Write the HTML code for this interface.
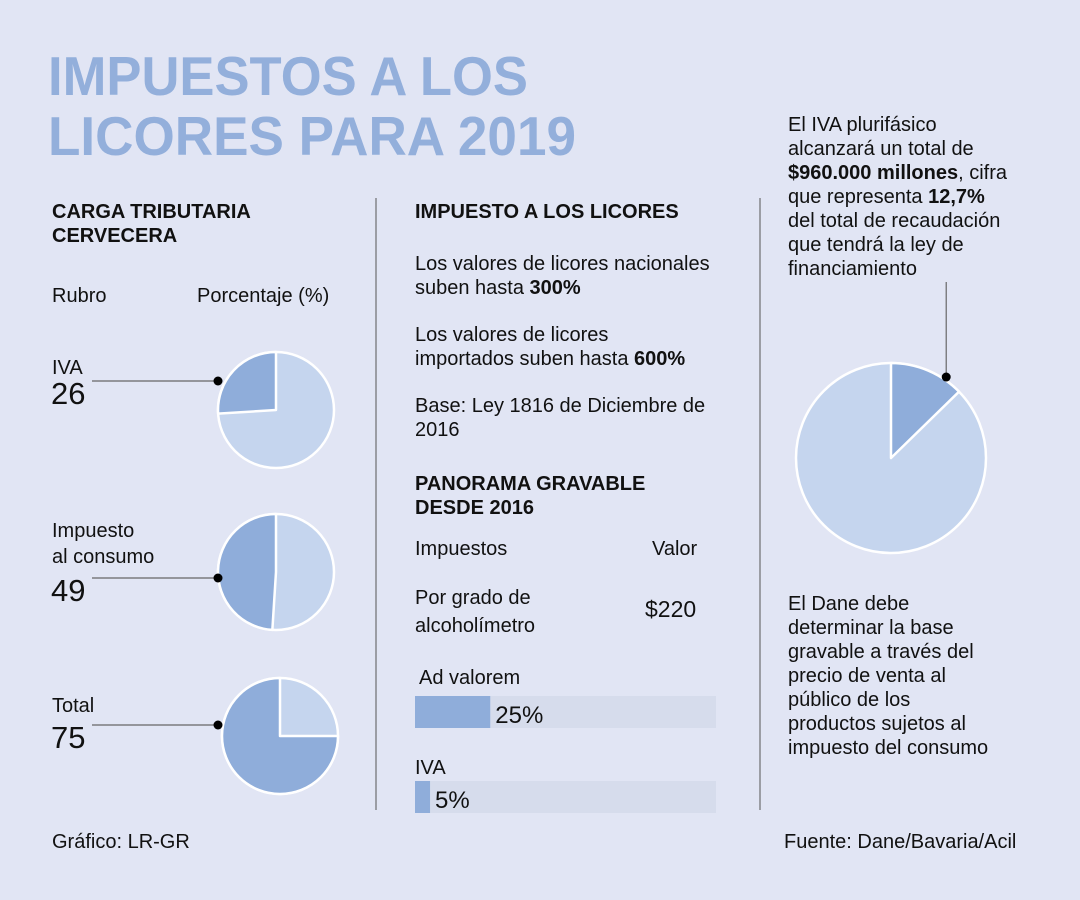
<!DOCTYPE html>
<html><head><meta charset="utf-8"><style>
body{margin:0;width:1080px;height:900px;background:#e1e5f4;overflow:hidden;font-family:"Liberation Sans",sans-serif}
svg{position:absolute;left:0;top:0}
</style></head><body>
<svg width="1080" height="900" viewBox="0 0 1080 900" id="chart" font-family="Liberation Sans, sans-serif">
<rect x="0" y="0" width="1080" height="900" fill="#e1e5f4"/>
<g fill="#93afdb" font-weight="bold" font-size="55">
<text x="48" y="95" textLength="480" lengthAdjust="spacingAndGlyphs">IMPUESTOS A LOS</text>
<text x="48" y="155" textLength="528" lengthAdjust="spacingAndGlyphs">LICORES PARA 2019</text>
</g>
<line x1="376" y1="198" x2="376" y2="810" stroke="#555" stroke-width="1"/>
<line x1="760" y1="198" x2="760" y2="810" stroke="#555" stroke-width="1"/>
<g font-size="20" fill="#111">
<text x="52" y="218" font-weight="bold">CARGA TRIBUTARIA</text>
<text x="52" y="242" font-weight="bold">CERVECERA</text>
<text x="52" y="302">Rubro</text>
<text x="197" y="302">Porcentaje (%)</text>
<text x="52" y="374">IVA</text>
<text x="52" y="537">Impuesto</text>
<text x="52" y="563">al consumo</text>
<text x="52" y="712">Total</text>
<text x="415" y="218" font-weight="bold">IMPUESTO A LOS LICORES</text>
<text x="415" y="270">Los valores de licores nacionales</text>
<text x="415" y="294">suben hasta <tspan font-weight="bold">300%</tspan></text>
<text x="415" y="341">Los valores de licores</text>
<text x="415" y="365">importados suben hasta <tspan font-weight="bold">600%</tspan></text>
<text x="415" y="412">Base: Ley 1816 de Diciembre de</text>
<text x="415" y="436">2016</text>
<text x="415" y="490" font-weight="bold">PANORAMA GRAVABLE</text>
<text x="415" y="514" font-weight="bold">DESDE 2016</text>
<text x="415" y="555">Impuestos</text>
<text x="652" y="555">Valor</text>
<text x="415" y="604">Por grado de</text>
<text x="415" y="632">alcoholímetro</text>
<text x="645" y="617" font-size="23">$220</text>
<text x="788" y="131">El IVA plurifásico</text>
<text x="788" y="155">alcanzará un total de</text>
<text x="788" y="179"><tspan font-weight="bold">$960.000 millones</tspan>, cifra</text>
<text x="788" y="203">que representa <tspan font-weight="bold">12,7%</tspan></text>
<text x="788" y="227">del total de recaudación</text>
<text x="788" y="251">que tendrá la ley de</text>
<text x="788" y="275">financiamiento</text>
<text x="788" y="610">El Dane debe</text>
<text x="788" y="634">determinar la base</text>
<text x="788" y="658">gravable a través del</text>
<text x="788" y="682">precio de venta al</text>
<text x="788" y="706">público de los</text>
<text x="788" y="730">productos sujetos al</text>
<text x="788" y="754">impuesto del consumo</text>
<text x="52" y="848">Gráfico: LR-GR</text>
<text x="784" y="848">Fuente: Dane/Bavaria/Acil</text>
</g>
<g id="pies"></g>
<g id="bars"></g>
<g id="bigpie"></g>
</svg>
<script>
const pieLabels = ["IVA", "Impuesto al consumo", "Total"];
const pieValues = [26, 49, 75];
const barLabels = ["Ad valorem", "IVA"];
const barValues = [25, 5];
const bigPieValue = [12.7];
const NS = "http://www.w3.org/2000/svg";
const pieCX = [276, 276, 280], pieCY = [410, 572, 736], pieR = 58;
const labelY = [393, 590, 737];
function mk(tag, attrs, parent){const e=document.createElementNS(NS,tag);for(const k in attrs)e.setAttribute(k,attrs[k]);parent.appendChild(e);return e;}
function pt(cx,cy,r,frac){const a=frac*2*Math.PI;return [cx+r*Math.sin(a), cy-r*Math.cos(a)];}
function slicePath(cx,cy,r,f0,f1){const [x0,y0]=pt(cx,cy,r,f0),[x1,y1]=pt(cx,cy,r,f1);const large=(f1-f0)>0.5?1:0;return `M${cx},${cy} L${x0},${y0} A${r},${r} 0 ${large} 1 ${x1},${y1} Z`;}
const pies=document.getElementById('pies');
pieValues.forEach((v,i)=>{
  const cx=pieCX[i], cy=pieCY[i], f=v/100;
  const c=mk('circle',{cx,cy,r:pieR,fill:'#c5d5ee',stroke:'#fff','stroke-width':2.5},pies);
  
  
  const s=mk('path',{d:slicePath(cx,cy,pieR,1-f,1),fill:'#8fadda',stroke:'#fff','stroke-width':2.5,'stroke-linejoin':'round'},pies);
  
  
  const ly=labelY[i]-12;
  const ln=mk('line',{x1:92,y1:ly,x2:218,y2:ly,stroke:'#666','stroke-width':1.2},pies);
  
  
  const d=mk('circle',{cx:218,cy:ly,r:4.5,fill:'#000'},pies);
  
  
  const t=mk('text',{x:51,y:labelY[i]+11,'font-size':31,fill:'#111'},pies);
  t.textContent=v;
  
  
});
const bars=document.getElementById('bars');
const bx=415, bw=301, bh=32, barY=[696,781], lblY=[684,774];
function xs(v){return v/100*bw;}
barValues.forEach((v,i)=>{
  const tr=mk('rect',{x:bx,y:barY[i],width:bw,height:bh,fill:'#d6dcec'},bars);
  
  
  const b=mk('rect',{x:bx,y:barY[i],width:xs(v),height:bh,fill:'#8fadda'},bars);
  
  
  const l=mk('text',{x:i==0?419:415,y:lblY[i],'font-size':20,fill:'#111'},bars);
  l.textContent=barLabels[i];
  
  
  const vt=mk('text',{x:bx+xs(v)+5,y:barY[i]+27,'font-size':24,fill:'#111'},bars);
  vt.textContent=v+'%';
  
  
});
const bp=document.getElementById('bigpie');
const BX=891, BY=458, BR=95, bf=bigPieValue[0]/100;
const bc=mk('circle',{cx:BX,cy:BY,r:BR,fill:'#c5d5ee',stroke:'#fff','stroke-width':2.5},bp);


const bs=mk('path',{d:slicePath(BX,BY,BR,0,bf),fill:'#8fadda',stroke:'#fff','stroke-width':2.5,'stroke-linejoin':'round'},bp);


const [px,py]=pt(BX,BY,BR+3,bf*0.75);
const bl=mk('line',{x1:px,y1:282,x2:px,y2:py,stroke:'#666','stroke-width':1.2},bp);


const bd=mk('circle',{cx:px,cy:py,r:4.5,fill:'#000'},bp);


</script>
</body></html>
